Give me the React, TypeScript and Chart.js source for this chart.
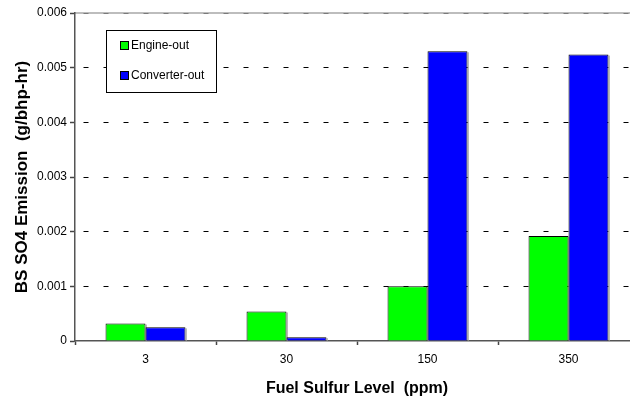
import React, { useEffect, useRef } from "react";
import { Chart, registerables } from "chart.js";

Chart.register(...registerables);

const categories = ["3", "30", "150", "350"];
const engineOut = [0.00032, 0.00054, 0.001, 0.00192];
const converterOut = [0.00025, 0.00007, 0.0053, 0.00524];
const seriesNames = ["Engine-out", "Converter-out"];
const seriesColors = ["#00FF00", "#0000FF"];
const yTitle = "BS SO4 Emission  (g/bhp-hr)";
const xTitle = "Fuel Sulfur Level  (ppm)";

const FONT = "'Liberation Sans', Arial, sans-serif";

const topLinePlugin = {
  id: "topLine",
  beforeDraw(chart: any) {
    const { ctx, chartArea } = chart;
    ctx.save();
    ctx.strokeStyle = "#bdbdbd";
    ctx.lineWidth = 2;
    ctx.beginPath();
    ctx.moveTo(chartArea.left, chartArea.top);
    ctx.lineTo(chartArea.right, chartArea.top);
    ctx.stroke();
    ctx.restore();
  },
};

const shadowPlugin = {
  id: "barShadow",
  beforeDatasetsDraw(chart: any) {
    const { ctx } = chart;
    ctx.save();
    ctx.fillStyle = "#b8b8b8";
    chart.data.datasets.forEach((_d: any, di: number) => {
      const meta = chart.getDatasetMeta(di);
      meta.data.forEach((bar: any) => {
        const left = bar.x - bar.width / 2;
        const top = Math.min(bar.y, bar.base);
        const h = Math.abs(bar.base - bar.y);
        ctx.fillRect(left + bar.width, top + 1, 1.5, h - 1);
      });
    });
    ctx.restore();
  },
};

const legendPlugin = {
  id: "boxLegend",
  afterDraw(chart: any) {
    const { ctx } = chart;
    const bx = 106.5;
    const by = 30.5;
    const bw = 110;
    const bh = 62;
    ctx.save();
    ctx.fillStyle = "#ffffff";
    ctx.fillRect(bx, by, bw, bh);
    ctx.strokeStyle = "#000";
    ctx.lineWidth = 1;
    ctx.strokeRect(bx, by, bw, bh);
    ctx.font = `12px ${FONT}`;
    ctx.textBaseline = "middle";
    ctx.textAlign = "left";
    chart.data.datasets.forEach((ds: any, i: number) => {
      const cy = 46 + i * 30;
      ctx.fillStyle = ds.backgroundColor;
      ctx.fillRect(121, cy - 4, 7, 7);
      ctx.strokeStyle = "#000";
      ctx.strokeRect(120.5, cy - 4.5, 8, 8);
      ctx.fillStyle = "#000";
      ctx.fillText(ds.label, 131, cy);
    });
    ctx.restore();
  },
};

export default function App() {
  const ref = useRef<HTMLCanvasElement>(null);

  useEffect(() => {
    const canvas = ref.current;
    if (!canvas) return;
    const chart = new Chart(canvas, {
      type: "bar",
      data: {
        labels: categories,
        datasets: [
          {
            label: seriesNames[0],
            data: engineOut,
            backgroundColor: seriesColors[0],
            borderColor: "#000",
            borderWidth: 1,
            categoryPercentage: 0.567,
            barPercentage: 1.0,
          },
          {
            label: seriesNames[1],
            data: converterOut,
            backgroundColor: seriesColors[1],
            borderColor: "#000",
            borderWidth: 1,
            categoryPercentage: 0.567,
            barPercentage: 1.0,
          },
        ],
      },
      options: {
        responsive: false,
        animation: false,
        devicePixelRatio: 1,
        layout: { padding: { top: 13, right: 11, left: 0, bottom: 0 } },
        plugins: {
          legend: { display: false },
          tooltip: { enabled: false },
        },
        scales: {
          x: {
            type: "category",
            offset: true,
            grid: {
              offset: true,
              drawOnChartArea: false,
              drawTicks: true,
              tickLength: 4,
              tickColor: "#444",
              tickWidth: 1.5,
            },
            border: { color: "#555", width: 1.5 },
            ticks: {
              color: "#000",
              font: { family: FONT, size: 12 },
              padding: 7,
            },
            title: {
              display: true,
              text: xTitle,
              color: "#000",
              font: { family: FONT, size: 16, weight: "bold" },
              padding: { top: 0, bottom: 0 },
            },
            afterFit(scale: any) {
              scale.height = 57;
            },
          },
          y: {
            min: 0,
            max: 0.006,
            grid: {
              color: (ctx: any) => {
                const v = ctx.tick ? ctx.tick.value : 0;
                if (v === 0) return "rgba(0,0,0,0)";
                if (v >= 0.006 - 1e-9) return "#7a7a7a";
                return "#000";
              },
              lineWidth: 1,
              tickLength: 5,
              tickColor: "#444",
              tickWidth: 1.5,
            },
            border: { color: "#555", width: 1.5, dash: [5, 15], dashOffset: -8 },
            ticks: {
              stepSize: 0.001,
              color: "#000",
              padding: 3,
              font: { family: FONT, size: 12 },
              callback: (v: any) => (Number(v) === 0 ? "0" : Number(v).toFixed(3)),
            },
            title: {
              display: true,
              text: yTitle,
              color: "#000",
              font: { family: FONT, size: 17, weight: "bold" },
              padding: { top: 12, bottom: 0 },
            },
            afterFit(scale: any) {
              scale.width = 75;
            },
          },
        },
      },
      plugins: [topLinePlugin, shadowPlugin, legendPlugin],
    } as any);
    return () => chart.destroy();
  }, []);

  return (
    <div
      style={{
        position: "fixed",
        left: 0,
        top: 0,
        width: 630,
        height: 398,
        overflow: "hidden",
        background: "#fff",
      }}
    >
      <canvas ref={ref} width={650} height={398} style={{ width: 650, height: 398, display: "block" }} />
    </div>
  );
}
